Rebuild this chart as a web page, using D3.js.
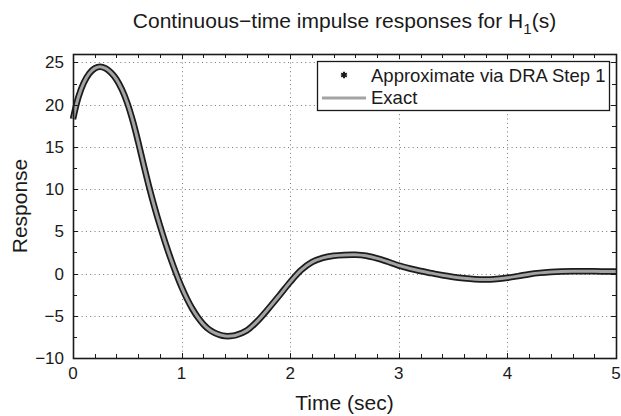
<!DOCTYPE html>
<html>
<head>
<meta charset="utf-8">
<script src="https://cdn.jsdelivr.net/npm/d3@7"></script>
<style>
  body { margin: 0; background: #fff; }
  text { font-family: "Liberation Sans", Arial, sans-serif; fill: #1a1a1a; }
</style>
</head>
<body>
<script>
// values
var times = [0, 0.05, 0.1, 0.15, 0.2, 0.25, 0.3, 0.35, 0.4, 0.45, 0.5, 0.55, 0.6, 0.65, 0.7, 0.75, 0.8, 0.85, 0.9, 0.95,
  1.0, 1.05, 1.1, 1.15, 1.2, 1.25, 1.3, 1.35, 1.4, 1.45, 1.5, 1.6, 1.7, 1.8, 1.9, 2.0, 2.1, 2.2, 2.3, 2.4, 2.5, 2.6,
  2.7, 2.8, 2.9, 3.0, 3.1, 3.2, 3.3, 3.4, 3.5, 3.6, 3.7, 3.8, 3.9, 4.0, 4.1, 4.2, 4.3, 4.4, 4.5, 4.6, 4.7, 4.8, 4.9, 5.0];
var exact = [18.3, 20.9, 22.6, 23.7, 24.3, 24.5, 24.3, 23.8, 23.0, 21.8, 20.2, 18.1, 15.6, 12.9, 10.3, 7.9, 5.7, 3.65, 1.75, 0.0,
  -1.6, -3.0, -4.2, -5.2, -6.0, -6.6, -7.0, -7.25, -7.4, -7.4, -7.3, -6.75, -5.6, -4.15, -2.6, -1.0, 0.4, 1.35, 1.85, 2.1, 2.2, 2.22,
  2.1, 1.8, 1.4, 0.95, 0.6, 0.3, 0.05, -0.2, -0.4, -0.56, -0.67, -0.71, -0.64, -0.5, -0.3, -0.08, 0.08, 0.18, 0.24, 0.27, 0.28, 0.27, 0.25, 0.23];
var approx = exact.slice();   // DRA step 1 points sit right on the exact curve

var xTicks = [0, 1, 2, 3, 4, 5];
var yTicks = [-10, -5, 0, 5, 10, 15, 20, 25];
var legendNames = ["Approximate via DRA Step 1", "Exact"];

var W = 621, H = 416;
var pL = 73, pR = 616, pT = 54, pB = 358;

var svg = d3.select("body").append("svg")
    .attr("width", W)
    .attr("height", H);
svg.append("rect").attr("width", W).attr("height", H).attr("fill", "#fff");

var x = d3.scaleLinear().domain([0, 5]).range([pL, pR]);
var y = d3.scaleLinear().domain([-10, 26]).range([pB, pT]);

// dotted grid
var grid = svg.append("g").attr("stroke", "#777").attr("stroke-width", 1).attr("stroke-dasharray", "1,3.3");
grid.selectAll(".gx").data(xTicks.slice(1, -1)).enter().append("line")
    .attr("x1", d => Math.round(x(d)) + 0.5).attr("x2", d => Math.round(x(d)) + 0.5)
    .attr("y1", pT).attr("y2", pB);
grid.selectAll(".gy").data(yTicks.slice(1)).enter().append("line")
    .attr("y1", d => Math.round(y(d)) + 0.5).attr("y2", d => Math.round(y(d)) + 0.5)
    .attr("x1", pL).attr("x2", pR);

// curves
var line = d3.line().x(d => x(d[0])).y(d => y(d[1])).curve(d3.curveCatmullRom);
var plot = svg.append("g");
plot.append("path").datum(times.map((t, i) => [t, approx[i]]))
    .attr("d", line).attr("fill", "none").attr("stroke", "#1c1c1c")
    .attr("stroke-width", 6.5).attr("stroke-linejoin", "round");
plot.append("path").datum(times.map((t, i) => [t, exact[i]]))
    .attr("d", line).attr("fill", "none").attr("stroke", "#a3a3a3")
    .attr("stroke-width", 3).attr("stroke-linejoin", "round");

// axes box with ticks on all sides (inward)
var fmt = d3.format("");
var minorX = d3.range(0, 5.001, 0.2), minorY = d3.range(-10, 26, 2.5);
var ax = svg.append("g").attr("stroke", "#1a1a1a").attr("stroke-width", 1);
minorX.forEach(function (t) {
  var xx = Math.round(x(t)) + 0.5;
  var len = xTicks.indexOf(Math.round(t * 10) / 10) >= 0 ? 5 : 4;
  ax.append("line").attr("x1", xx).attr("x2", xx).attr("y1", pB).attr("y2", pB - len);
  ax.append("line").attr("x1", xx).attr("x2", xx).attr("y1", pT).attr("y2", pT + len);
});
minorY.forEach(function (v) {
  var yy = Math.round(y(v)) + 0.5;
  var len = yTicks.indexOf(v) >= 0 ? 5 : 4;
  ax.append("line").attr("y1", yy).attr("y2", yy).attr("x1", pL).attr("x2", pL + len);
  ax.append("line").attr("y1", yy).attr("y2", yy).attr("x1", pR).attr("x2", pR - len);
});
ax.append("rect").attr("x", pL + 0.5).attr("y", pT + 0.5)
    .attr("width", pR - pL).attr("height", pB - pT)
    .attr("fill", "none").attr("stroke-width", 1.6);

svg.selectAll(".xl").data(xTicks).enter().append("text")
    .attr("x", d => x(d)).attr("y", pB + 21)
    .attr("text-anchor", "middle").attr("font-size", 17)
    .text(d => fmt(d));
svg.selectAll(".yl").data(yTicks).enter().append("text")
    .attr("x", pL - 9).attr("y", d => y(d) + 6)
    .attr("text-anchor", "end").attr("font-size", 17)
    .text(d => fmt(d));

// labels
svg.append("text").attr("x", (pL + pR) / 2).attr("y", 410)
    .attr("text-anchor", "middle").attr("font-size", 21).text("Time (sec)");
svg.append("text").attr("transform", "translate(27," + ((pT + pB) / 2) + ") rotate(-90)")
    .attr("text-anchor", "middle").attr("font-size", 21).text("Response");
var title = svg.append("text").attr("x", (pL + pR) / 2).attr("y", 28)
    .attr("text-anchor", "middle").attr("font-size", 21);
title.append("tspan").text("Continuous\u2212time impulse responses for H");
title.append("tspan").attr("font-size", 15).attr("dy", 6).text("1");
title.append("tspan").attr("dy", -6).text("(s)");

// legend
var lg = svg.append("g");
lg.append("rect").attr("x", 317.5).attr("y", 61.5).attr("width", 292).attr("height", 49)
    .attr("fill", "#fff").attr("stroke", "#1a1a1a").attr("stroke-width", 1.3);
lg.append("path").attr("d", d3.symbol(d3.symbolAsterisk, 30)())
    .attr("transform", "translate(344,75)").attr("stroke", "#1a1a1a").attr("stroke-width", 2).attr("fill", "none");
lg.append("line").attr("x1", 322).attr("x2", 366).attr("y1", 98).attr("y2", 98)
    .attr("stroke", "#a3a3a3").attr("stroke-width", 3);
lg.selectAll(".lt").data(legendNames).enter().append("text")
    .attr("x", 371).attr("y", (d, i) => 82 + i * 22)
    .attr("font-size", 18.5).text(d => d);
</script>
</body>
</html>
